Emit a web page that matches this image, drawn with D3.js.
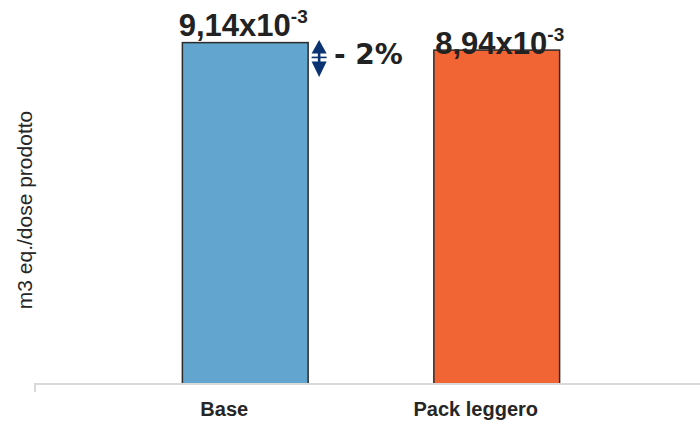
<!DOCTYPE html>
<html>
<head>
<meta charset="utf-8">
<script src="https://cdn.jsdelivr.net/npm/d3@7"></script>
<style>
  html, body { margin: 0; padding: 0; background: #ffffff; }
  svg { display: block; }
</style>
</head>
<body>
<svg id="chart" width="700" height="421"></svg>
<script>
// Water footprint per product dose, in units of 10^-3 m3 eq.
const categories = ["Base", "Pack leggero"];
const values = [9.14, 8.94];
const valueLabels = ["9,14", "8,94"];
const exponentLabel = "-3";
const barColors = ["#62a6d0", "#f16434"];
const yTitle = "m3 eq./dose prodotto";

const svg = d3.select("#chart");
const W = 700, H = 421;
const axisY = 384;

const x = d3.scaleBand()
  .domain(categories)
  .range([119.5, 622.5])
  .paddingInner(0.5)
  .paddingOuter(0.25);

const y = d3.scaleLinear()
  .domain([0, 10])
  .range([axisY, 10.5]);

// bars
svg.append("g")
  .selectAll("rect")
  .data(categories)
  .join("rect")
  .attr("x", d => x(d))
  .attr("y", (d, i) => y(values[i]))
  .attr("width", x.bandwidth())
  .attr("height", (d, i) => axisY - y(values[i]))
  .attr("fill", (d, i) => barColors[i])
  .attr("stroke", "#2b2b2b")
  .attr("stroke-width", 1.5);

// category axis
const xAxis = svg.append("g")
  .attr("transform", `translate(0,${axisY})`)
  .call(d3.axisBottom(x).tickSize(0).tickPadding(0));
xAxis.select(".domain").remove();
xAxis.append("line")
  .attr("x1", 34).attr("x2", W)
  .attr("y1", 0).attr("y2", 0)
  .attr("stroke", "#d9d9d9").attr("stroke-width", 2);
xAxis.append("line")
  .attr("x1", 35).attr("x2", 35)
  .attr("y1", 0).attr("y2", 8)
  .attr("stroke", "#d9d9d9").attr("stroke-width", 2);
xAxis.selectAll(".tick text")
  .attr("y", 32)
  .attr("dy", 0)
  .attr("dx", -21)
  .attr("fill", "#262626")
  .style("font-family", "'Liberation Sans', Arial, sans-serif")
  .style("font-weight", "bold")
  .style("font-size", "20px");

// value labels with exponent
const labelDy = [-6.5, 3.5];
const labels = svg.append("g")
  .selectAll("text")
  .data(categories)
  .join("text")
  .attr("x", (d, i) => x(d) + x.bandwidth() / 2 + (i === 1 ? 3 : -2))
  .attr("y", (d, i) => y(values[i]) + labelDy[i])
  .attr("text-anchor", "middle")
  .attr("fill", "#222222")
  .style("font-family", "'Liberation Sans', Arial, sans-serif")
  .style("font-weight", "bold");
labels.append("tspan")
  .style("font-size", "31px")
  .text((d, i) => valueLabels[i] + "x10");
labels.append("tspan")
  .attr("dy", -13)
  .style("font-size", "19px")
  .text(exponentLabel);

// change indicator between the two bars
const pct = (values[1] - values[0]) / values[0] * 100;
const ax = x(categories[0]) + x.bandwidth() + 11;
const aTop = y(values[0]) - 2.5;
const aBot = aTop + 37;
const aMid = (aTop + aBot) / 2;
const hw = 7.5;
const arrow = svg.append("g").attr("fill", "#0b3271");
arrow.append("path")
  .attr("d", `M${ax},${aTop} L${ax + hw},${aMid - 5} L${ax - hw},${aMid - 5} Z`);
arrow.append("path")
  .attr("d", `M${ax},${aBot} L${ax + hw},${aMid + 3} L${ax - hw},${aMid + 3} Z`);
arrow.append("rect")
  .attr("x", ax - 1.3).attr("y", aMid - 6)
  .attr("width", 2.6).attr("height", 10);
arrow.append("rect")
  .attr("x", ax - hw).attr("y", aMid - 2)
  .attr("width", hw * 2).attr("height", 1.6);

svg.append("text")
  .attr("x", 334)
  .attr("y", 64)
  .attr("fill", "#222222")
  .style("font-family", "'DejaVu Sans', Verdana, sans-serif")
  .style("font-weight", "bold")
  .style("font-size", "28px")
  .text(`- ${Math.abs(Math.round(pct))}%`);

// y-axis title
svg.append("text")
  .attr("transform", "translate(32,210) rotate(-90)")
  .attr("text-anchor", "middle")
  .attr("fill", "#262626")
  .style("font-family", "'Liberation Sans', Arial, sans-serif")
  .style("font-size", "21px")
  .text(yTitle);
</script>
</body>
</html>
